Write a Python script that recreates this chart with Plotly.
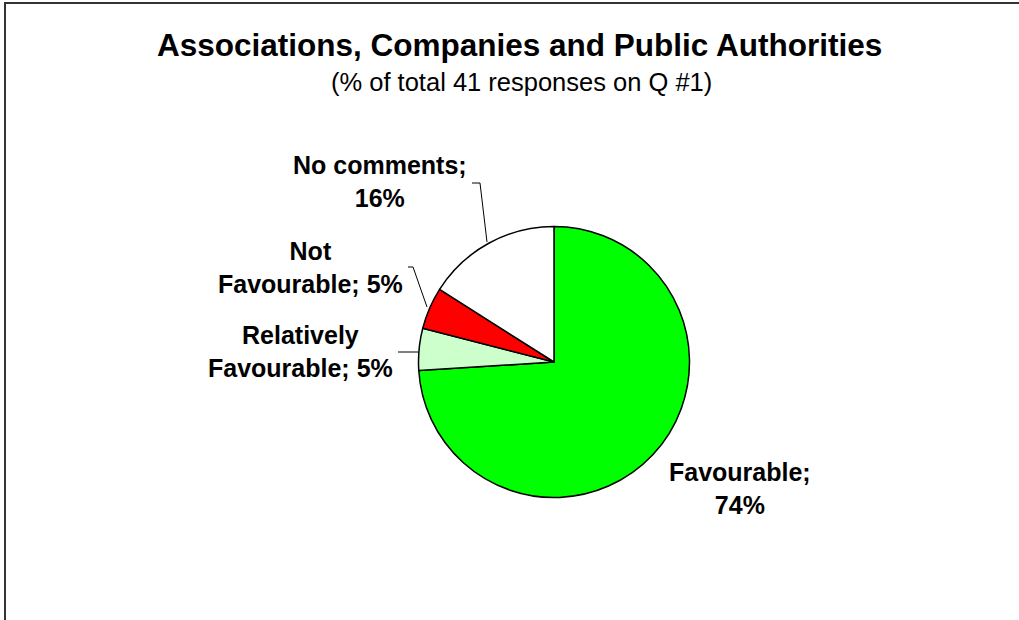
import plotly.graph_objects as go

# Survey breakdown (% of 41 responses on Q #1)
categories = ["Favourable", "Relatively Favourable", "Not Favourable", "No comments"]
values = [74, 5, 5, 16]
colors = ["#00FF00", "#CCFFCC", "#FF0000", "#FFFFFF"]

W, H = 1019, 620
cx, cy, r = 554, 362, 135.5

fig = go.Figure(go.Pie(
    labels=categories,
    values=values,
    sort=False,
    direction="clockwise",
    rotation=0,
    marker=dict(colors=colors, line=dict(color="#000000", width=1.5)),
    textinfo="none",
    hoverinfo="label+percent",
    showlegend=False,
    domain=dict(x=[(cx - r) / W, (cx + r) / W],
                y=[(H - cy - r) / H, (H - cy + r) / H]),
))

def px(x):
    return x / W

def py(y):
    return 1 - y / H

# Label text split over two lines, placed around the pie
label_lines = {
    "Favourable": ("Favourable;", "{v}%"),
    "Relatively Favourable": ("Relatively", "Favourable; {v}%"),
    "Not Favourable": ("Not", "Favourable; {v}%"),
    "No comments": ("No comments;", "{v}%"),
}
label_pos = {
    "Favourable": (740, 488),
    "Relatively Favourable": (300, 351),
    "Not Favourable": (310, 267),
    "No comments": (380, 182),
}

FAMILY = "Liberation Sans, Arial, sans-serif"
font = dict(family=FAMILY, size=25, color="#000000")
for cat, v in zip(categories, values):
    l1, l2 = label_lines[cat]
    x, y = label_pos[cat]
    fig.add_annotation(
        x=px(x), y=py(y), xref="paper", yref="paper",
        text="<b>" + l1 + "<br>" + l2.format(v=v) + "</b>",
        showarrow=False, align="center", font=font,
        xanchor="center", yanchor="middle",
    )

# Leader lines from labels to slices
leaders = [
    [(472, 183), (480, 183), (487, 242)],
    [(408, 267), (413, 267), (427, 307)],
    [(398, 352), (418, 352)],
]
shapes = []
for pts in leaders:
    path = "M " + " L ".join(f"{px(x)},{py(y)}" for x, y in pts)
    shapes.append(dict(type="path", path=path, xref="paper", yref="paper",
                       line=dict(color="#000000", width=1)))

# Outer frame
shapes.append(dict(type="rect", xref="paper", yref="paper",
                   x0=px(5), y0=py(3), x1=px(W + 10), y1=py(H + 10),
                   line=dict(color="#333333", width=2)))
fig.update_layout(shapes=shapes)

fig.add_annotation(
    x=px(519), y=py(44.5), xref="paper", yref="paper",
    text="<b>Associations, Companies and Public Authorities</b>",
    showarrow=False, font=dict(family=FAMILY, size=31.5, color="#000000"),
    xanchor="center", yanchor="middle",
)
fig.add_annotation(
    x=px(521), y=py(82), xref="paper", yref="paper",
    text="(% of total 41 responses on Q #1)",
    showarrow=False, font=dict(family=FAMILY, size=25.5, color="#000000"),
    xanchor="center", yanchor="middle",
)

fig.update_layout(
    width=W, height=H,
    margin=dict(l=0, r=0, t=0, b=0),
    paper_bgcolor="#FFFFFF",
    plot_bgcolor="#FFFFFF",
)

fig.write_html("out.html")
